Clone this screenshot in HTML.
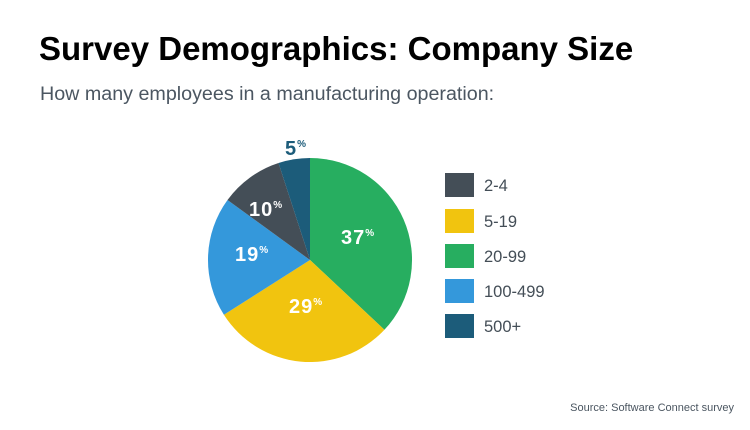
<!DOCTYPE html>
<html><head><style>
body{margin:0;width:750px;height:425px;background:#fff;overflow:hidden;font-family:"Liberation Sans",Arial,sans-serif}
</style></head><body>
<svg width="750" height="425" viewBox="0 0 750 425" xmlns="http://www.w3.org/2000/svg" font-family="Liberation Sans, Arial, sans-serif">
<text x="39" y="60" font-size="33" font-weight="bold" fill="#000">Survey Demographics: Company Size</text>
<text x="40" y="100" font-size="19.7" fill="#4b5661">How many employees in a manufacturing operation:</text>
<g>
<path d="M310,260 L310,158 A102,102 0 0 1 384.4,329.8 Z" fill="#27ae60"/>
<path d="M310,260 L384.4,329.8 A102,102 0 0 1 223.9,314.7 Z" fill="#f1c40f"/>
<path d="M310,260 L223.9,314.7 A102,102 0 0 1 227.5,200 Z" fill="#3498db"/>
<path d="M310,260 L227.5,200 A102,102 0 0 1 278.5,163 Z" fill="#444e57"/>
<path d="M310,260 L278.5,163 A102,102 0 0 1 310,158 Z" fill="#1c5c7a"/>
</g>
<g font-weight="bold" fill="#fff" font-size="20" letter-spacing="1">
<text x="341" y="244">37<tspan font-size="10" dy="-8">%</tspan></text>
<text x="289" y="313">29<tspan font-size="10" dy="-8">%</tspan></text>
<text x="235" y="261">19<tspan font-size="10" dy="-8">%</tspan></text>
<text x="249" y="216">10<tspan font-size="10" dy="-8">%</tspan></text>
<text x="285" y="155" fill="#1c5c7a">5<tspan font-size="10" dy="-8">%</tspan></text>
</g>
<g>
<rect x="445" y="173" width="29" height="24" fill="#444e57"/>
<rect x="445" y="209" width="29" height="24" fill="#f1c40f"/>
<rect x="445" y="244" width="29" height="24" fill="#27ae60"/>
<rect x="445" y="279" width="29" height="24" fill="#3498db"/>
<rect x="445" y="314" width="29" height="24" fill="#1c5c7a"/>
</g>
<g font-size="16.5" fill="#444e57">
<text x="484" y="191">2-4</text>
<text x="484" y="227">5-19</text>
<text x="484" y="262">20-99</text>
<text x="484" y="297">100-499</text>
<text x="484" y="332">500+</text>
</g>
<text x="734" y="411" font-size="11" fill="#4b5661" text-anchor="end">Source: Software Connect survey</text>
</svg>
</body></html>
